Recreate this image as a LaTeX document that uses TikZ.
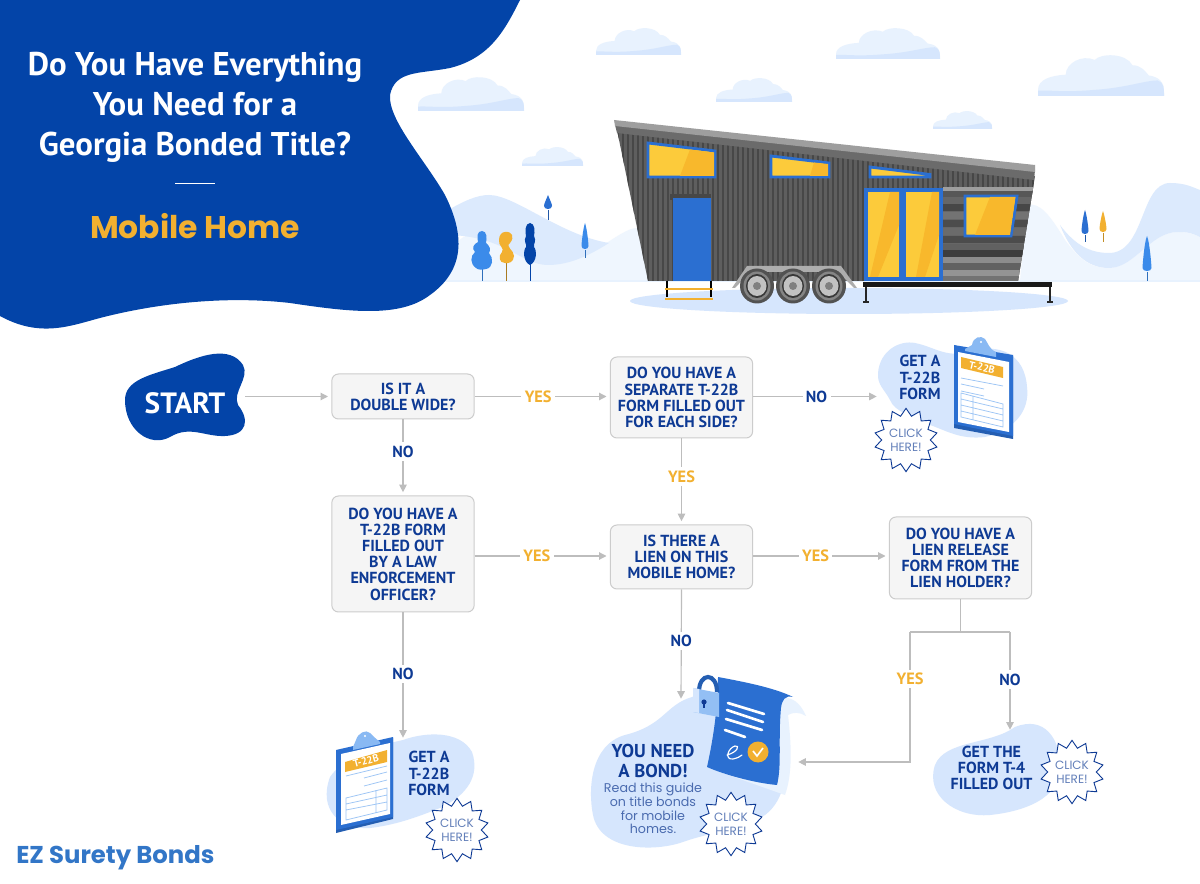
\documentclass[tikz,border=0pt]{standalone}
\usepackage{fontspec}
\usetikzlibrary{arrows.meta,shapes.geometric}
\setmainfont{PT Sans}
\newfontfamily\pop{Poppins}
\definecolor{navy}{HTML}{0E3A94}
\definecolor{royal}{HTML}{0344A8}
\definecolor{midblue}{HTML}{2B6FD1}
\definecolor{skyblue}{HTML}{3B8BEA}
\definecolor{pale}{HTML}{D6E6FD}
\definecolor{paler}{HTML}{E8F2FE}
\definecolor{amber}{HTML}{F2B030}
\definecolor{winy}{HTML}{FCCB3B}
\definecolor{winy2}{HTML}{F8B82C}
\definecolor{conngray}{HTML}{BDBDBD}
\tikzset{
 decbox/.style={draw=black!20,fill=black!4,rounded corners=4pt,line width=.6pt,minimum width=85.4pt,align=center,text=navy,font=\bfseries\fontsize{9.6}{9.7}\selectfont,inner sep=0pt},
 conn/.style={draw=conngray,line width=.7pt,shorten >=2pt,-{Triangle[length=4.5pt,width=4.5pt,fill=conngray]}},
 plain/.style={draw=conngray,line width=.7pt},
 yeslab/.style={fill=white,text=amber,font=\bfseries\fontsize{9.8}{10}\selectfont,inner sep=2pt},
 nolab/.style={fill=white,text=navy,font=\bfseries\fontsize{9.6}{10}\selectfont,inner sep=2pt},
 burst/.style={star,star points=14,star point ratio=1.3,draw=navy,fill=white,line width=.55pt,minimum size=38pt,inner sep=0pt},
 clicktxt/.style={text=navy!65,align=center,font=\pop\fontsize{7.2}{8.2}\selectfont,inner sep=0pt},
 goal/.style={text=navy,align=center,font=\bfseries\fontsize{9.6}{9.8}\selectfont,inner sep=0pt},
 win/.style={draw=midblue,fill=winy,line width=1.7pt,line join=miter},
}
\newcommand\cloudy[4]{%
 \begin{scope}[shift={(#1,#2)},xscale=#3,yscale=#4]
 \fill[paler] (0,.85) .. controls (0,.6) and (.1,.5) .. (.22,.48) .. controls (.22,.2) and (.35,-.02) .. (.45,.12) .. controls (.5,-.05) and (.7,-.05) .. (.75,.25) .. controls (.82,.25) and (.85,.4) .. (.88,.5) .. controls (1,.55) and (1,.8) .. (1,.9) -- (1,1) -- (0,1) -- cycle;
 \fill[pale] (0,.87) .. controls (.1,.85) and (.2,.92) .. (.45,.85) .. controls (.7,.8) and (.85,.62) .. (.95,.62) .. controls (1,.68) and (1,.8) .. (1,1) -- (0,1) -- cycle;
 \end{scope}}
\newcommand\leaf[6]{% x top bottom halfwidth base colour
 \draw[#6!80!black,line width=.5pt] (#1,#3) -- (#1,#5);
 \fill[#6] (#1,#2) .. controls (#1+#4*.6,#2+6) and (#1+#4,#3-6) .. (#1+#4,#3-4) .. controls (#1+#4,#3) and (#1-#4,#3) .. (#1-#4,#3-4) .. controls (#1-#4,#3-6) and (#1-#4*.6,#2+6) .. (#1,#2) -- cycle;}
\newcommand\wheel[1]{%
 \fill[black!68] (#1,286) ellipse (17 and 17.5);
 \fill[black!48] (#1,286) ellipse (13.5 and 14.5);
 \fill[black!78] (#1,286) ellipse (11 and 12);
 \fill[black!24] (#1,286) ellipse (9.5 and 10);
 \fill[black!50] (#1,286) circle (4);}
\begin{document}
\begin{tikzpicture}[x=0.6pt,y=-0.6pt]
\useasboundingbox (0,0) rectangle (1200,884);
\fill[white] (0,0) rectangle (1200,884);
% hills
\fill[paler!70!white] (430,281) .. controls (450,250) and (460,235) .. (470,235) .. controls (500,235) and (530,262) .. (560,262) .. controls (590,262) and (620,228) .. (637,228) -- (660,281) -- cycle;
\fill[pale!85!white] (445,212) .. controls (465,200) and (478,195) .. (489,195) .. controls (515,195) and (560,235) .. (609,243) .. controls (590,255) and (570,265) .. (548,265) .. controls (520,265) and (505,235) .. (445,235) -- cycle;
\fill[paler!70!white] (1020,281) -- (1027,205) .. controls (1040,202) and (1050,215) .. (1065,240) .. controls (1080,260) and (1090,268) .. (1109,268) .. controls (1135,268) and (1150,232) .. (1178,232) .. controls (1190,232) and (1195,235) .. (1200,237) -- (1200,281) -- cycle;
\fill[pale!85!white] (1060,225) .. controls (1075,245) and (1090,253) .. (1109,253) .. controls (1145,253) and (1140,183) .. (1170,183) .. controls (1185,183) and (1192,187) .. (1200,190) -- (1200,237) .. controls (1190,232) and (1185,232) .. (1178,232) .. controls (1150,232) and (1135,268) .. (1109,268) .. controls (1085,268) and (1070,250) .. (1060,225) -- cycle;
\draw[paler,line width=.7pt] (30,281) -- (1200,281);
% clouds
\cloudy{596}{28}{85}{27}
\cloudy{836}{28}{104}{31}
\cloudy{1038}{55}{126}{41}
\cloudy{418}{77}{106}{34}
\cloudy{716}{78}{76}{24}
\cloudy{933}{111}{59}{18}
\cloudy{522}{147}{61}{19}
% trees
\draw[skyblue!80!black,line width=.5pt] (482,250) -- (482,281);
\fill[skyblue] (482,231) .. controls (487,231) and (487,238) .. (486,243) .. controls (490,246) and (491,250) .. (489,253) .. controls (494,258) and (493,268) .. (486,269) .. controls (482,270) and (478,270) .. (476,268) .. controls (470,264) and (470,256) .. (475,252) .. controls (471,248) and (474,244) .. (478,242) .. controls (477,237) and (477,231) .. (482,231) -- cycle;
\draw[amber!70!black,line width=.5pt] (506,250) -- (506,281);
\fill[amber] (505,232) .. controls (512,231) and (515,237) .. (510,243) .. controls (505,247) and (514,250) .. (514,256) .. controls (514,262) and (508,264) .. (505,263) .. controls (499,263) and (498,256) .. (502,252) .. controls (505,248) and (498,246) .. (499,240) .. controls (499,235) and (502,232) .. (505,232) -- cycle;
\draw[royal,line width=.5pt] (530,255) -- (530,281);
\fill[royal] (530,223) .. controls (535,223) and (535,232) .. (534,236) .. controls (537,241) and (533,244) .. (534,247) .. controls (537,250) and (537,262) .. (530,265) .. controls (523,262) and (523,250) .. (526,247) .. controls (527,244) and (523,241) .. (526,236) .. controls (525,232) and (525,223) .. (530,223) -- cycle;
\leaf{548}{195}{210}{4}{220}{midblue}
\leaf{585}{223}{250}{3.5}{258}{skyblue}
\leaf{1085}{210}{235}{3.5}{242}{midblue}
\leaf{1103}{211}{233}{3.5}{242}{amber}
\leaf{1147}{236}{272}{4.5}{281}{skyblue}
% ground shadow
\fill[pale] (849,301) ellipse (219 and 13);
% house body
\fill[black!63] (617,130) -- (1035,176) -- (1018,281) -- (648,281) -- cycle;
\begin{scope}
 \clip (617,130) -- (1035,176) -- (1018,281) -- (648,281) -- cycle;
 \foreach \sx in {618,623,...,1034} {\draw[black!72,line width=1.2pt] (\sx,125) -- (\sx,285);}
 \fill[black!60] (943,187) rectangle (1040,282);
 \foreach \sy/\sc in {190/66,197/60,204/72,212/55,220/70,228/58,236/70,244/62,250/76,257/45,263/62,270/42,276/55} {\fill[black!\sc] (943,\sy) rectangle (1040,\sy+7);}
 \fill[black!38] (943,187) rectangle (1040,191);
\end{scope}
% roof
\fill[black!58] (615,125) -- (1035,170) -- (1034,180) -- (617,133) -- cycle;
\fill[black!38] (614,120) -- (1035,165) -- (1035,172) -- (615,126) -- cycle;
% windows
\filldraw[win] (648,143) -- (715,151) -- (715,177) -- (648,177) -- cycle;
\fill[winy2] (690,149.5) -- (714,152.5) -- (714,176) -- (680,176) -- cycle;
\filldraw[win] (771,156) -- (829,163) -- (829,177) -- (771,177) -- cycle;
\fill[winy2] (814,162.5) -- (828,164) -- (828,176) -- (810,176) -- cycle;
\filldraw[win] (870,167) -- (930,174.5) -- (930,177) -- (870,177) -- cycle;
\filldraw[win] (965,196) -- (1017,196) -- (1011,236) -- (965,236) -- cycle;
\fill[winy2] (990,197) -- (1015.5,197) -- (1010,235) -- (975,235) -- cycle;
% sliding door
\fill[midblue] (864,188) rectangle (943,281);
\fill[winy] (868,192) rectangle (899,277);
\fill[winy] (906,192) rectangle (939,277);
\fill[winy2] (890,192) -- (899,192) -- (899,225) -- (878,277) -- (870,277) -- cycle;
\fill[winy2] (932,192) -- (939,192) -- (939,235) -- (925,277) -- (916,277) -- cycle;
% door
\fill[black!72] (670,194) rectangle (711,200);
\fill[midblue] (673,198) rectangle (711,281);
% steps
\draw[black,line width=1.2pt] (667,281) -- (667,297);
\draw[black,line width=1.2pt] (711,281) -- (711,297);
\draw[amber,line width=1.6pt] (665,289) -- (713,289);
\draw[amber,line width=1.6pt] (665,299) -- (713,299);
% trailer
\fill[black!32] (732,288) -- (747,266) -- (841,266) -- (857,288) -- (854,288) -- (838,272) -- (750,272) -- (735,288) -- cycle;
\wheel{757}\wheel{793}\wheel{829}
% deck
\fill[black!90] (863,282) rectangle (1052,287);
\foreach \lx in {866,1050} {\draw[black!85,line width=1.2pt] (\lx,287) -- (\lx,301); \draw[black!85,line width=1.4pt] (\lx-3,302) -- (\lx+3,302);}
% title blob
\fill[royal] (0,0) -- (520,0) .. controls (505,30) and (490,58) .. (450,68) .. controls (420,74) and (395,70) .. (390,95) .. controls (388,120) and (425,160) .. (445,195) .. controls (465,235) and (465,270) .. (430,295) .. controls (400,318) and (350,312) .. (290,303) .. controls (220,295) and (150,305) .. (100,318) .. controls (70,326) and (40,338) .. (0,316) -- cycle;
\node[text=white,font=\bfseries\fontsize{19.7}{24}\selectfont,align=center,inner sep=0pt] (title) at (195,107) {Do You Have Everything\\You Need for a\\Georgia Bonded Title?};
\draw[white,line width=.6pt] (175,184) -- (215,184);
\node[text=amber,font=\pop\bfseries\fontsize{18.8}{20}\selectfont,inner sep=0pt] (sub) at (195,226) {Mobile Home};
% start
\fill[royal] (125,400) .. controls (125,380) and (150,375) .. (175,367) .. controls (200,355) and (230,345) .. (243,365) .. controls (250,378) and (232,392) .. (238,405) .. controls (250,420) and (247,435) .. (225,436) .. controls (205,437) and (190,425) .. (170,437) .. controls (150,448) and (125,430) .. (125,400) -- cycle;
\node[minimum width=72pt,text=white,font=\bfseries\fontsize{17.6}{18}\selectfont,inner sep=0pt] (start) at (185,403) {START};
% boxes
\node[decbox,minimum height=27pt] (b1) at (403,396.5) {IS IT A\\DOUBLE WIDE?};
\node[decbox,minimum height=48.6pt] (b2) at (681.5,397.5) {DO YOU HAVE A\\SEPARATE T-22B\\FORM FILLED OUT\\FOR EACH SIDE?};
\node[decbox,minimum height=69.6pt] (b3) at (403,554) {DO YOU HAVE A\\T-22B FORM\\FILLED OUT\\BY A LAW\\ENFORCEMENT\\OFFICER?};
\node[decbox,minimum height=38.4pt] (b4) at (681.5,557) {IS THERE A\\LIEN ON THIS\\MOBILE HOME?};
\node[decbox,minimum height=49.2pt] (b5) at (960.5,558) {DO YOU HAVE A\\LIEN RELEASE\\FORM FROM THE\\LIEN HOLDER?};
% top form
\fill[pale] (878,373) .. controls (880,350) and (900,340) .. (915,343) .. controls (935,347) and (945,358) .. (970,352) .. controls (1000,342) and (1025,355) .. (1027,387) .. controls (1030,410) and (1015,430) .. (985,437) .. controls (960,440) and (945,430) .. (930,425) .. controls (910,415) and (895,412) .. (890,400) .. controls (885,390) and (877,385) .. (878,373) -- cycle;
\fill[midblue!85!black] (954,346) -- (1013,356) -- (1013,439) -- (954,428) -- cycle;
\fill[midblue] (954,345) -- (1013,355) -- (1013,436) -- (954,424) -- cycle;
\fill[white] (958,352) -- (1009,362) -- (1009,432) -- (958,422) -- cycle;
\fill[skyblue!60] (965,349) -- (972,345) .. controls (973,337) and (981,335) .. (985,339) .. controls (988,343) and (989,349) .. (996,352) -- (996,357) -- (965,351) -- cycle;
\fill[white] (981,342) circle (1.2);
\fill[amber] (961,357) -- (1003,367) -- (1003,378) -- (961,368) -- cycle;
\node[rotate=-13,text=white,font=\bfseries\fontsize{6.2}{7}\selectfont,inner sep=0pt] (tab1) at (982,367.5) {T-22B};
\foreach \ya/\yb/\xa/\xb in {378/386/961/1003,384/389/961/984,391/396/961/984} {\draw[skyblue!50,line width=.45pt] (\xa,\ya) -- (\xb,\yb);}
\draw[skyblue!50,line width=.45pt] (961,393) -- (1003,404) -- (1003,427) -- (961,417) -- cycle (973,396) -- (973,420) (961,399) -- (1003,409) (961,405) -- (1003,415) (961,411) -- (1003,421);
\node[goal,anchor=north] (f1) at (920,355) {GET A\\T-22B\\FORM};
\coordinate (f1in) at (880,396.5);
% bottom-left form
\fill[pale] (330,777) .. controls (345,755) and (380,745) .. (403,740) .. controls (425,732) and (460,730) .. (472,752) .. controls (480,775) and (468,795) .. (440,808) .. controls (415,818) and (395,825) .. (370,828) .. controls (340,830) and (318,810) .. (330,777) -- cycle;
\fill[midblue!85!black] (336,752) -- (393,738) -- (393,819) -- (336,833) -- cycle;
\fill[midblue] (336,750) -- (393,737) -- (393,817) -- (336,830) -- cycle;
\fill[white] (341,754) -- (390,743) -- (390,814) -- (341,825) -- cycle;
\fill[skyblue!60] (353,747) -- (356,740) .. controls (358,733) and (366,729) .. (370,733) .. controls (373,736) and (375,738) .. (380,742) -- (380,744) -- (353,750) -- cycle;
\fill[white] (365,736) circle (1.2);
\fill[amber] (345,762) -- (387,750) -- (387,762) -- (345,772) -- cycle;
\node[rotate=15,text=white,font=\bfseries\fontsize{6.2}{7}\selectfont,inner sep=0pt] (tab2) at (366,761) {T-22B};
\draw[skyblue!50,line width=.45pt] (346,776) -- (387,766) (364,778) -- (387,772) (364,786) -- (387,780);
\draw[skyblue!50,line width=.45pt] (346,798) -- (387,788) -- (387,810) -- (346,820) -- cycle (346,804) -- (387,795) (346,810) -- (387,802) (376,790) -- (376,812);
\node[goal,anchor=north] (f2) at (429,751) {GET A\\T-22B\\FORM};
\coordinate (f2in) at (403,741);
% bond
\fill[pale] (692,697) .. controls (665,705) and (665,725) .. (625,735) .. controls (590,745) and (588,790) .. (593,815) .. controls (600,850) and (650,852) .. (680,843) .. controls (710,832) and (740,830) .. (765,815) .. controls (785,800) and (790,770) .. (780,740) .. controls (775,715) and (715,685) .. (692,697) -- cycle;
\fill[paler] (780,697) .. controls (792,697) and (800,702) .. (806,716) .. controls (800,712) and (793,712) .. (788,715) .. controls (792,750) and (792,775) .. (785,795) -- (720,772) -- cycle;
\fill[midblue] (718,677) .. controls (745,682) and (775,688) .. (793,697) .. controls (785,695) and (782,700) .. (781,708) .. controls (778,740) and (782,765) .. (777,785) .. controls (755,783) and (725,775) .. (707,767) .. controls (712,745) and (718,710) .. (718,677) -- cycle;
\foreach \xa/\ya/\xb/\yb in {728/703/764/714,727/710/763/722,726/719/762/730,725/730/745/737} {\draw[white,line width=1.6pt,line cap=round] (\xa,\ya) -- (\xb,\yb);}
\draw[white,line width=.7pt,line cap=round] (727,755) .. controls (738,752) and (740,745) .. (735,746) .. controls (728,748) and (724,760) .. (733,759) .. controls (737,758) and (740,757) .. (742,755);
\fill[amber] (758,752) circle (10.5);
\draw[white,line width=1pt] (753,751) -- (757,756) -- (763,748);
\draw[midblue!85!black,line width=2.5pt] (699,692) .. controls (699,672) and (717,672) .. (717,692);
\fill[skyblue!55] (693,688) -- (719,693) -- (719,717) -- (693,712) -- cycle;
\fill[pale] (693,688) -- (699,689) -- (699,713) -- (693,712) -- cycle;
\fill[navy] (704,702) circle (2.6);
\draw[navy,line width=1.2pt] (704,702) -- (704,708);
\node[text=navy,align=center,font=\bfseries\fontsize{11.2}{12}\selectfont,inner sep=0pt] (bondh) at (653,761) {YOU NEED\\A BOND!};
\node[text=navy!75,align=center,font=\pop\fontsize{7.6}{8.2}\selectfont,inner sep=0pt] (bondt) at (653,808.5) {Read this guide\\on title bonds\\for mobile\\homes.};
\coordinate (bondtop) at (681,702);
\coordinate (bondin) at (795,762);
% T-4
\fill[pale] (935,765) .. controls (945,740) and (990,745) .. (1015,727) .. controls (1045,715) and (1060,740) .. (1060,765) .. controls (1062,800) and (1020,812) .. (990,815) .. controls (955,818) and (925,795) .. (935,765) -- cycle;
\node[goal] (f4) at (991.5,768) {GET THE\\FORM T-4\\FILLED OUT};
\coordinate (f4in) at (1010,733);
% click badges
\node[burst] (s1) at (906,440) {};
\node[clicktxt] (s1t) at (906,440) {CLICK\\HERE!};
\node[burst] (s2) at (457,830) {};
\node[clicktxt] (s2t) at (457,830) {CLICK\\HERE!};
\node[burst] (s3) at (731,824) {};
\node[clicktxt] (s3t) at (731,824) {CLICK\\HERE!};
\node[burst] (s4) at (1072,772) {};
\node[clicktxt] (s4t) at (1072,772) {CLICK\\HERE!};
% connectors
\draw[conn] (start.east |- b1.west) -- (b1.west);
\draw[conn] (b1.east) -- node[yeslab,pos=.47] {YES} (b1.east -| b2.west);
\draw[conn] (b2.east |- f1in) -- node[nolab,pos=.5] {NO} (f1in);
\draw[conn] (b1.south) -- node[nolab,pos=.42] {NO} (b3.north);
\draw[conn] (b2.south) -- node[yeslab,pos=.44] {YES} (b4.north);
\coordinate (mid34) at (600,556);
\draw[conn] (b3.east |- mid34) -- node[yeslab,pos=.46] {YES} (b4.west |- mid34);
\draw[conn] (b4.east |- mid34) -- node[yeslab,pos=.46] {YES} (b5.west |- mid34);
\draw[conn] (b3.south) -- node[nolab,pos=.48] {NO} (f2in);
\draw[conn] (b4.south) -- node[nolab,pos=.46] {NO} (bondtop);
\coordinate (split) at (960,632);
\coordinate (splitL) at (910,632);
\coordinate (splitR) at (1010,632);
\draw[plain] (b5.south) -- (b5.south |- split);
\draw[plain] (splitL) -- (splitR);
\draw[conn] (splitL) -- node[yeslab,pos=.36] {YES} (splitL |- bondin) -- (bondin);
\draw[conn] (splitR) -- node[nolab,pos=.47] {NO} (f4in);
% logo
\node[anchor=west,text=skyblue!85!black,font=\pop\bfseries\fontsize{14.6}{16}\selectfont,inner sep=0pt] (logo) at (16,858) {EZ Surety Bonds};
\end{tikzpicture}
\end{document}
